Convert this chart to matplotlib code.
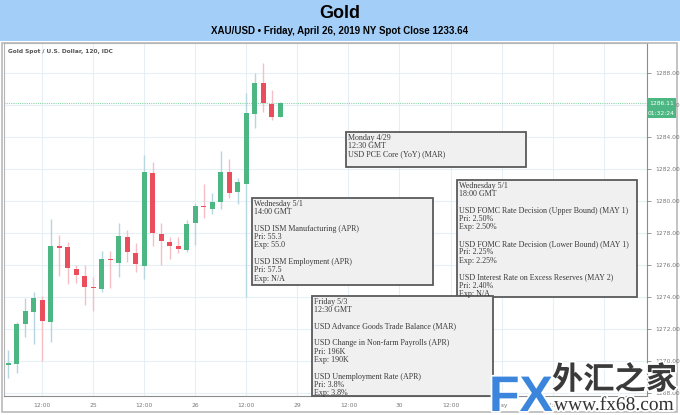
import matplotlib
matplotlib.use("Agg")
import numpy as np
import matplotlib.pyplot as plt
import matplotlib.patheffects as pe
from matplotlib.patches import Rectangle
from matplotlib.transforms import blended_transform_factory

# 2-hour candles, XAU/USD, Apr 24 04:00 -> Apr 26 20:00
opens = [1269.77, 1269.81, 1272.31, 1273.08, 1273.81, 1272.46, 1277.19, 1277.11,
         1275.73, 1275.33, 1274.60, 1274.50, 1276.40, 1276.14, 1277.77, 1276.73,
         1275.94, 1281.77, 1277.92, 1277.46, 1277.19, 1276.94, 1278.60, 1279.69,
         1279.50, 1279.92, 1281.79, 1280.54, 1281.06, 1285.44, 1287.39, 1286.04,
         1285.27]
highs = [1270.69, 1272.46, 1273.92, 1274.33, 1274.06, 1278.88, 1277.88, 1277.46,
         1276.00, 1275.98, 1275.23, 1276.88, 1276.90, 1278.60, 1278.19, 1277.35,
         1282.88, 1282.46, 1278.64, 1277.77, 1277.73, 1278.81, 1279.86, 1281.04,
         1280.48, 1283.15, 1282.63, 1281.42, 1286.73, 1288.02, 1288.64, 1286.94,
         1286.19]
lows = [1268.96, 1269.23, 1271.52, 1271.04, 1270.02, 1271.21, 1275.31, 1274.79,
        1274.90, 1273.50, 1273.13, 1274.33, 1274.54, 1275.27, 1276.21, 1275.54,
        1275.10, 1277.19, 1276.00, 1276.38, 1276.73, 1276.79, 1277.25, 1278.92,
        1279.19, 1279.50, 1280.17, 1279.79, 1274.00, 1284.58, 1285.54, 1285.06,
        1285.23]
closes = [1269.80, 1272.29, 1273.13, 1273.92, 1272.50, 1277.21, 1277.04, 1275.79,
          1275.38, 1274.64, 1274.56, 1276.36, 1276.30, 1277.81, 1276.83, 1276.04,
          1281.79, 1277.98, 1277.52, 1277.21, 1276.98, 1278.56, 1279.69, 1279.60,
          1279.96, 1281.83, 1280.52, 1281.17, 1285.48, 1287.35, 1286.10, 1285.27,
          1286.11]

last_price = 1286.11
countdown = "01:32:24"

x_tick_pos = [4, 10, 16, 22, 28, 34, 40, 46, 52, 58, 64, 70]
x_tick_labels = ["12:00", "25", "12:00", "26", "12:00", "29",
                 "12:00", "30", "12:00", "May", "12:00", "2"]
y_ticks = [1268, 1270, 1272, 1274, 1276, 1278, 1280, 1282, 1284, 1286, 1288]

events = [
    ["Monday 4/29", "12:30 GMT", "USD PCE Core (YoY) (MAR)"],
    ["Wednesday 5/1", "18:00 GMT", "",
     "USD FOMC Rate Decision (Upper Bound) (MAY 1)", "Pri: 2.50%", "Exp: 2.50%", "",
     "USD FOMC Rate Decision (Lower Bound) (MAY 1)", "Pri: 2.25%", "Exp: 2.25%", "",
     "USD Interest Rate on Excess Reserves (MAY 2)", "Pri: 2.40%", "Exp: N/A"],
    ["Wednesday 5/1", "14:00 GMT", "",
     "USD ISM Manufacturing (APR)", "Pri: 55.3", "Exp: 55.0", "",
     "USD ISM Employment (APR)", "Pri: 57.5", "Exp: N/A"],
    ["Friday 5/3", "12:30 GMT", "",
     "USD Advance Goods Trade Balance (MAR)", "",
     "USD Change in Non-farm Payrolls (APR)", "Pri: 196K", "Exp: 190K", "",
     "USD Unemployment Rate (APR)", "Pri: 3.8%", "Exp: 3.8%"],
]
# box corners in pixels (left, top, right, bottom)
event_boxes = [(346, 132, 526, 167), (457, 180, 637, 297),
               (252, 198, 433, 285), (312, 296, 493, 396)]

W, H = 680, 415
UP, DOWN = "#4cb782", "#eb4d5c"
UP_WICK, DOWN_WICK = "#b7d6df", "#f6bfc6"


def fx(px):
    return px / W


def fy(py):
    return 1 - py / H


fig = plt.figure(figsize=(6.8, 4.15), dpi=100)
fig.patch.set_facecolor("white")

# title band
fig.add_artist(Rectangle((0, fy(41)), 1, 1 - fy(41), transform=fig.transFigure,
                         facecolor="#a3cef8", edgecolor="none", zorder=0))
fig.add_artist(Rectangle((fx(2), fy(412)), fx(675), fy(43) - fy(412),
                         transform=fig.transFigure, facecolor="none",
                         edgecolor="#b9b9b9", lw=1.2, zorder=0))
fig.text(0.5, fy(14), "Gold", ha="center", va="center", fontsize=13,
         fontweight="bold", family="Liberation Sans", color="black")
fig.text(0.5, fy(31), "XAU/USD \u2022 Friday, April 26, 2019 NY Spot Close 1233.64",
         ha="center", va="center", fontsize=7, fontweight="bold",
         family="Liberation Sans", color="black")

ax = fig.add_axes([fx(4), fy(396), fx(647) - fx(4), fy(43) - fy(396)])

x = np.arange(len(opens))
o = np.array(opens)
c = np.array(closes)
up = c >= o
body_col = [UP if u else DOWN for u in up]
wick_col = [UP_WICK if u else DOWN_WICK for u in up]
bottoms = np.minimum(o, c)
heights = np.maximum(np.abs(c - o), 0.09)

ax.vlines(x, lows, highs, colors=wick_col, lw=1.0, zorder=2)
ax.bar(x, heights, bottom=bottoms, width=0.6, color=body_col, zorder=3)

ax.axhline(last_price, color="#8fd6aa", lw=0.8, ls=(0, (1, 1)), zorder=2.5)

ax.set_xlim(-0.5, 75.1)
ax.set_ylim(1267.81, 1289.875)
ax.set_xticks(x_tick_pos)
ax.set_xticklabels(x_tick_labels)
ax.set_yticks(y_ticks)
ax.set_yticklabels([f"{v:.2f}" for v in y_ticks])
ax.yaxis.tick_right()
ax.tick_params(axis="x", length=0, labelsize=4.3, labelcolor="#777777", pad=5)
ax.tick_params(axis="y", length=3, width=0.6, color="#888888", labelsize=4.3,
               labelcolor="#777777", pad=3)
ax.grid(True, color="#e6eff5", lw=0.8, zorder=0)
ax.set_axisbelow(True)
for side in ["left", "top"]:
    ax.spines[side].set_color("#b5b5b5")
    ax.spines[side].set_linewidth(0.8)
for side in ["right", "bottom"]:
    ax.spines[side].set_color("#8c8c8c")
    ax.spines[side].set_linewidth(0.8)

# price tags on the right axis
btf = blended_transform_factory(ax.transAxes, ax.transData)
tag_w = 29 / 643
tag_h = 10 / 16
ax.add_patch(Rectangle((1.0, last_price - tag_h / 2), tag_w, tag_h, transform=btf,
                       facecolor=UP, edgecolor="none", clip_on=False, zorder=5))
ax.add_patch(Rectangle((1.0, last_price - 1.5 * tag_h), tag_w, tag_h, transform=btf,
                       facecolor=UP, edgecolor="none", clip_on=False, zorder=5))
ax.text(1.0 + tag_w / 2, last_price, f"{last_price:.2f}", transform=btf, ha="center",
        va="center", fontsize=4.3, color="white", clip_on=False, zorder=6)
ax.text(1.0 + tag_w / 2, last_price - tag_h, countdown, transform=btf, ha="center",
        va="center", fontsize=4.3, color="white", clip_on=False, zorder=6)

fig.text(fx(8), fy(51), "Gold Spot / U.S. Dollar, 120, IDC", ha="left", va="center",
         fontsize=4.2, fontweight="bold", color="#555555")

# economic calendar boxes
line_h = 8.35
for lines, (l, t, r, b) in zip(events, event_boxes):
    fig.add_artist(Rectangle((fx(l), fy(b)), fx(r) - fx(l), fy(t) - fy(b),
                             transform=fig.transFigure, facecolor="#f0f0f0",
                             edgecolor="#5a5a5a", lw=1.3, zorder=5))
    for k, txt in enumerate(lines):
        if txt:
            fig.text(fx(l + 2), fy(t + 1.5 + k * line_h), txt, ha="left", va="top",
                     fontsize=5.8, family="Liberation Serif", color="#3a3a3a",
                     zorder=6)

# watermark
halo = [pe.withStroke(linewidth=2.5, foreground="white")]
fig.text(fx(489), fy(411), "FX", ha="left", va="baseline", fontsize=36,
         fontweight="bold", family="Liberation Sans", color="#3b86dc",
         path_effects=halo, zorder=8)
fig.text(fx(552), fy(389), "外汇之家", ha="left", va="baseline", fontsize=22.5,
         fontweight="bold", family=["Noto Sans CJK SC", "DejaVu Sans"],
         color="#3a3a3a", path_effects=halo, zorder=8)
fig.text(fx(554), fy(410), "www.fx68.com", ha="left", va="baseline", fontsize=14,
         family="Liberation Serif", color="#333333", path_effects=halo, zorder=8)

fig.savefig("out.png", dpi=100, facecolor="white")
